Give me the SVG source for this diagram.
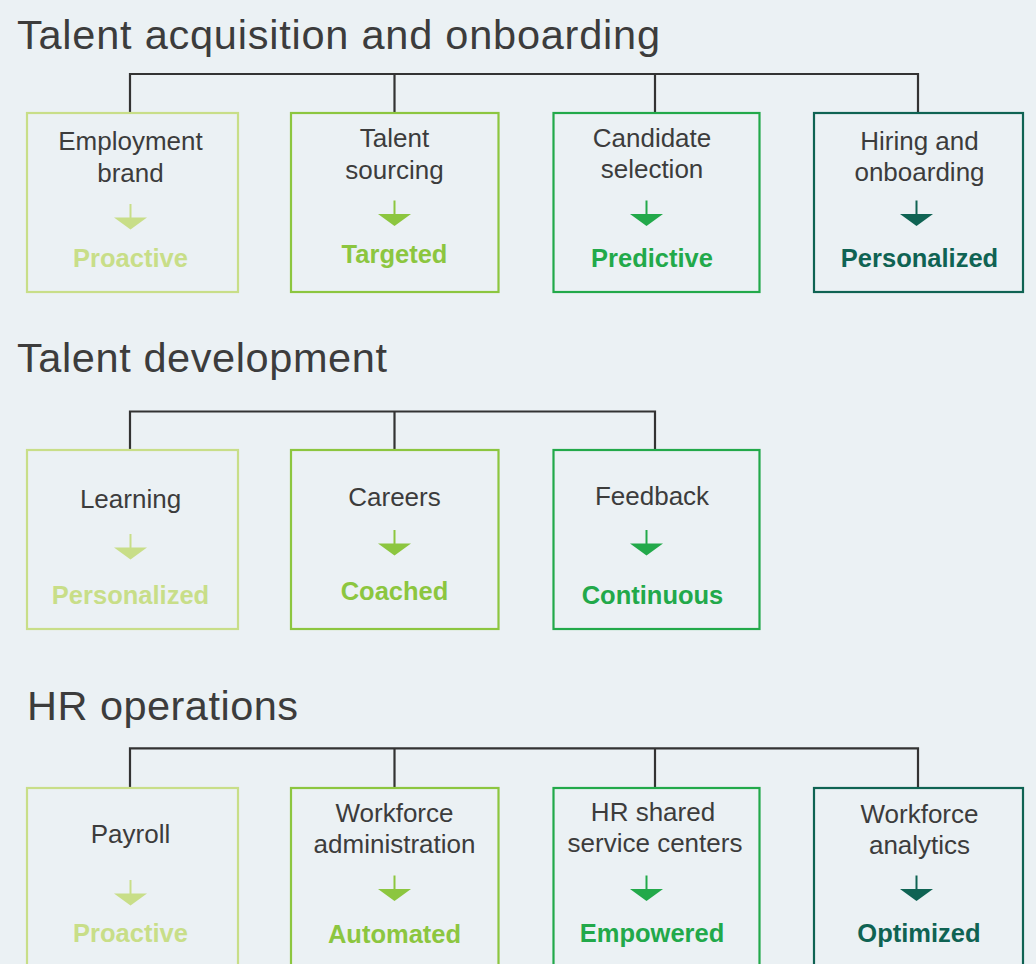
<svg xmlns="http://www.w3.org/2000/svg" xmlns:xlink="http://www.w3.org/1999/xlink" width="1036" height="964" viewBox="0 0 1036 964">
<style>
.title{font-family:"Liberation Sans",Arial,sans-serif;font-size:41.5px;fill:#3c3c3c}
.lbl{font-family:"Liberation Sans",Arial,sans-serif;font-size:26px;fill:#3c3c3c;text-anchor:middle}
.out{font-family:"Liberation Sans",Arial,sans-serif;font-size:25.5px;font-weight:bold;text-anchor:middle}
.box{fill:none;stroke-width:2.2}
.conn{fill:none;stroke:#333333;stroke-width:2.2}
.s1{stroke:#c8de88}.s2{stroke:#8cc63f}.s3{stroke:#22a94a}.s4{stroke:#0f6353}
.a1{color:#c8de88}.a2{color:#8cc63f}.a3{color:#22a94a}.a4{color:#0f6353}
.tc1{fill:#c8de88}.tc2{fill:#8cc63f}.tc3{fill:#22a94a}.tc4{fill:#0f6353}
</style>
<defs>
<g id="arrow">
<line x1="0" y1="0" x2="0" y2="14" stroke="currentColor" stroke-width="2"/>
<polygon points="-16.5,13.5 16.5,13.5 0,25.5" fill="currentColor" stroke="none"/>
</g>
</defs>
<rect x="0" y="0" width="1036" height="964" fill="#ebf1f4"/>

<g id="titles">
<text class="title" x="17" y="48.5" textLength="643" lengthAdjust="spacing">Talent acquisition and onboarding</text>
<text class="title" x="17" y="371.5" textLength="370" lengthAdjust="spacing">Talent development</text>
<text class="title" x="27" y="720" textLength="271" lengthAdjust="spacing">HR operations</text>
</g>

<g id="connectors">
<path class="conn" d="M130,113 V74 H918 V113 M394.5,74 V113 M655,74 V113"/>
<path class="conn" d="M130,450 V411.5 H655 V450 M394.5,411.5 V450"/>
<path class="conn" d="M130,788 V748.3 H918 V788 M394.5,748.3 V788 M655,748.3 V788"/>
</g>

<!-- Row 1 -->
<g id="employment-brand">
<rect class="box s1" x="27" y="113" width="211" height="179"/>
<text class="lbl" x="130.5" y="150">Employment</text>
<text class="lbl" x="130.5" y="181.7">brand</text>
<use xlink:href="#arrow" class="a1" transform="translate(130.5,204)"/>
<text class="out tc1" x="130.5" y="267.3">Proactive</text>
</g>
<g id="talent-sourcing">
<rect class="box s2" x="291" y="113" width="207.5" height="179"/>
<text class="lbl" x="394.5" y="147.3">Talent</text>
<text class="lbl" x="394.5" y="179.3">sourcing</text>
<use xlink:href="#arrow" class="a2" transform="translate(394.5,200.5)"/>
<text class="out tc2" x="394.5" y="263.3">Targeted</text>
</g>
<g id="candidate-selection">
<rect class="box s3" x="553.5" y="113" width="206" height="179"/>
<text class="lbl" x="652" y="147.3">Candidate</text>
<text class="lbl" x="652" y="178.3">selection</text>
<use xlink:href="#arrow" class="a3" transform="translate(646.5,200.5)"/>
<text class="out tc3" x="652" y="267.3">Predictive</text>
</g>
<g id="hiring-onboarding">
<rect class="box s4" x="814" y="113" width="209" height="179"/>
<text class="lbl" x="919.5" y="150">Hiring and</text>
<text class="lbl" x="919.5" y="181">onboarding</text>
<use xlink:href="#arrow" class="a4" transform="translate(916.5,200.5)"/>
<text class="out tc4" x="919.5" y="267">Personalized</text>
</g>

<!-- Row 2 -->
<g id="learning">
<rect class="box s1" x="27" y="450" width="211" height="179"/>
<text class="lbl" x="130.5" y="508.3">Learning</text>
<use xlink:href="#arrow" class="a1" transform="translate(130.5,534)"/>
<text class="out tc1" x="130.5" y="604">Personalized</text>
</g>
<g id="careers">
<rect class="box s2" x="291" y="450" width="207.5" height="179"/>
<text class="lbl" x="394.5" y="506">Careers</text>
<use xlink:href="#arrow" class="a2" transform="translate(394.5,530)"/>
<text class="out tc2" x="394.5" y="600">Coached</text>
</g>
<g id="feedback">
<rect class="box s3" x="553.5" y="450" width="206" height="179"/>
<text class="lbl" x="652" y="505">Feedback</text>
<use xlink:href="#arrow" class="a3" transform="translate(646.5,530)"/>
<text class="out tc3" x="652.5" y="604">Continuous</text>
</g>

<!-- Row 3 -->
<g id="payroll">
<rect class="box s1" x="27" y="788" width="211" height="200"/>
<text class="lbl" x="130.5" y="842.7">Payroll</text>
<use xlink:href="#arrow" class="a1" transform="translate(130.5,880)"/>
<text class="out tc1" x="130.5" y="941.7">Proactive</text>
</g>
<g id="workforce-administration">
<rect class="box s2" x="291" y="788" width="207.5" height="200"/>
<text class="lbl" x="394.5" y="821.7">Workforce</text>
<text class="lbl" x="394.5" y="852.7">administration</text>
<use xlink:href="#arrow" class="a2" transform="translate(394.5,875.5)"/>
<text class="out tc2" x="394.5" y="943.3">Automated</text>
</g>
<g id="hr-shared-service-centers">
<rect class="box s3" x="553.5" y="788" width="206" height="200"/>
<text class="lbl" x="653" y="821">HR shared</text>
<text class="lbl" x="655" y="851.7">service centers</text>
<use xlink:href="#arrow" class="a3" transform="translate(646.5,875.5)"/>
<text class="out tc3" x="652" y="941.7">Empowered</text>
</g>
<g id="workforce-analytics">
<rect class="box s4" x="814" y="788" width="209" height="200"/>
<text class="lbl" x="919.5" y="823.3">Workforce</text>
<text class="lbl" x="919.5" y="854.3">analytics</text>
<use xlink:href="#arrow" class="a4" transform="translate(916.5,875.5)"/>
<text class="out tc4" x="919" y="941.7">Optimized</text>
</g>
</svg>
